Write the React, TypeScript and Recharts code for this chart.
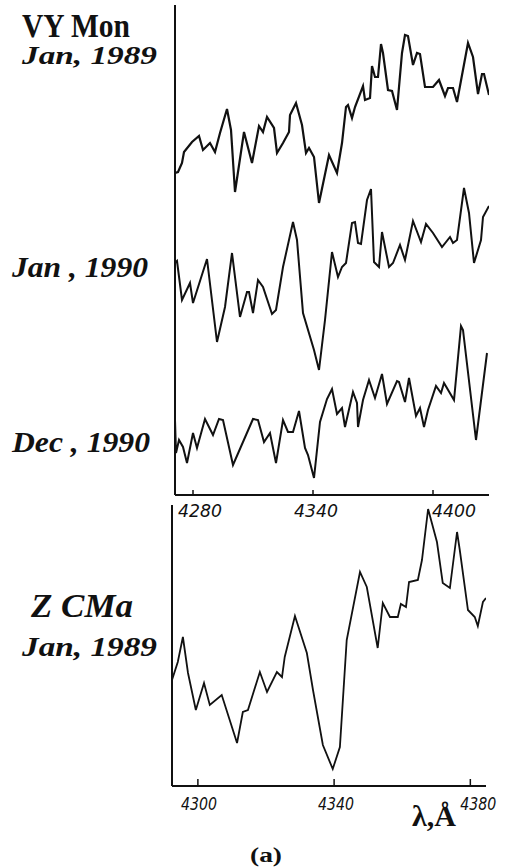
import { Line, LineChart, XAxis, YAxis } from "recharts";

// VY Mon, Jan 1989 (top trace), wavelength in Å and relative flux (offset)
const vyJan89Wave = [
  4271, 4272.5, 4274.5, 4275.5, 4279.5, 4283, 4285, 4288.5, 4291, 4293.5, 4297, 4299, 4301,
  4305.5, 4309.5, 4313, 4315, 4317, 4320.5, 4322, 4325, 4328, 4328.5, 4331.5, 4334.5, 4336.5,
  4338, 4340.5, 4343, 4348, 4352, 4354.5, 4356.5, 4357.5, 4359.5, 4361, 4365, 4366, 4368.5,
  4369.5, 4371, 4372.5, 4374, 4375, 4377.5, 4379.5, 4382, 4384.5, 4386, 4387.5, 4390, 4392,
  4393.5, 4396, 4400, 4403, 4406, 4407.5, 4410, 4412, 4417.5, 4420, 4422.5, 4424.5, 4425.5, 4428,
];
const vyJan89Flux = [
  3.22, 3.23, 3.32, 3.43, 3.53, 3.59, 3.45, 3.52, 3.43, 3.62, 3.86, 3.65, 3.03,
  3.63, 3.32, 3.69, 3.63, 3.78, 3.67, 3.42, 3.52, 3.63, 3.8, 3.92, 3.7, 3.42,
  3.47, 3.38, 2.92, 3.4, 3.22, 3.52, 3.88, 3.9, 3.77, 3.88, 4.09, 3.95, 3.97,
  4.29, 4.18, 4.18, 4.51, 4.42, 4.05, 4.04, 3.85, 4.42, 4.6, 4.59, 4.3, 4.42,
  4.41, 4.08, 4.08, 4.15, 3.99, 4.07, 4.07, 3.93, 4.52, 4.38, 4.01, 4.21, 4.21, 4.0,
];

// VY Mon, Jan 1990
const vyJan90Wave = [
  4271, 4272, 4274.5, 4278.5, 4280, 4287, 4292, 4296, 4299.5, 4303.5, 4307, 4308, 4310,
  4312.5, 4315, 4319.5, 4321.5, 4325, 4330, 4332, 4335, 4340.5, 4343, 4346, 4349.5, 4352.5,
  4354.5, 4356.5, 4359.5, 4361, 4362.5, 4364, 4367, 4369, 4370.5, 4373, 4374.5, 4378, 4380,
  4383.5, 4386, 4390, 4394, 4396.5, 4400, 4404.5, 4408.5, 4410, 4412, 4415.5, 4418, 4420.5,
  4424, 4425, 4428,
];
const vyJan90Flux = [
  2.32, 2.34, 1.95, 2.12, 1.92, 2.36, 1.53, 1.88, 2.42, 1.78, 2.03, 2.03, 1.82,
  2.15, 2.08, 1.81, 1.85, 2.28, 2.73, 2.55, 1.82, 1.45, 1.25, 1.75, 2.43, 2.18,
  2.28, 2.32, 2.72, 2.73, 2.52, 2.51, 2.95, 3.06, 2.33, 2.28, 2.63, 2.28, 2.32,
  2.5, 2.35, 2.74, 2.53, 2.71, 2.62, 2.48, 2.58, 2.52, 2.55, 3.07, 2.82, 2.32,
  2.55, 2.78, 2.89,
];

// VY Mon, Dec 1990
const vyDec90Wave = [
  4271, 4271.5, 4273, 4275, 4277, 4280, 4282, 4286, 4290, 4293, 4295, 4300, 4310, 4312.5,
  4315.5, 4318.5, 4321.5, 4325, 4327.5, 4330, 4333, 4336, 4337.5, 4340.5, 4343.5, 4347,
  4349.5, 4352, 4354.5, 4356, 4360, 4362, 4362.5, 4365, 4368, 4371, 4374.5, 4377, 4382,
  4383, 4386, 4388, 4391.5, 4393.5, 4395.5, 4397.5, 4401.5, 4404, 4405.5, 4410.5, 4414,
  4415, 4421.5, 4427,
];
const vyDec90Flux = [
  0.75, 0.42, 0.55, 0.48, 0.32, 0.62, 0.47, 0.76, 0.6, 0.76, 0.75, 0.3, 0.76, 0.75,
  0.53, 0.62, 0.32, 0.75, 0.63, 0.63, 0.84, 0.47, 0.4, 0.17, 0.73, 0.96,
  1.06, 0.81, 0.87, 0.68, 1.03, 0.92, 0.68, 0.95, 1.15, 0.97, 1.21, 0.91, 1.14,
  1.13, 0.93, 1.17, 0.79, 0.87, 0.68, 0.85, 1.09, 1.02, 1.12, 0.95, 1.69,
  1.65, 0.55, 1.42,
];

// Z CMa, Jan 1989
const zcmaWave = [
  4292.4, 4294.1, 4295.6, 4297.1, 4299.4, 4301.8, 4303.5, 4307, 4311.5, 4313.2, 4314.7,
  4318.2, 4320.3, 4323.2, 4324.7, 4325.5, 4328.5, 4332, 4333.8, 4336.7, 4339.6, 4341.7,
  4343.7, 4347.6, 4349.6, 4352.8, 4354.3, 4356.4, 4358.7, 4359.6, 4361.1, 4362, 4364.6,
  4365.8, 4367.6, 4370.2, 4371.9, 4374, 4376.1, 4376.9, 4379.3, 4381.3, 4382.2, 4383.7, 4384.6,
];
const zcmaFlux = [
  1.06, 1.24, 1.49, 1.13, 0.76, 1.03, 0.81, 0.91, 0.43, 0.74, 0.76,
  1.14, 0.94, 1.14, 1.09, 1.29, 1.7, 1.33, 0.96, 0.41, 0.17, 0.39,
  1.46, 2.14, 1.99, 1.38, 1.83, 1.69, 1.69, 1.82, 1.79, 2.04, 2.06,
  2.26, 2.77, 2.44, 2.03, 1.98, 2.54, 2.36, 1.76, 1.69, 1.6, 1.84, 1.88,
];

const topTicks = [4280, 4340, 4400];
const bottomTicks = [4300, 4340, 4380];

const toRows = (wave: number[], flux: number[]) =>
  wave.map((w, i) => ({ w, f: flux[i] }));

const ink = "#111";

function WaveTick(props: any) {
  const { x, y, payload, rise, drop, shifts, len } = props;
  const v = payload.value;
  return (
    <g>
      <line x1={x} y1={y} x2={x} y2={y - rise} stroke={ink} strokeWidth={1.5} />
      <text
        x={x + (shifts[v] ?? 0)}
        y={y + drop}
        textAnchor="middle"
        fontFamily="DejaVu Sans"
        fontStyle="italic"
        fontSize={17}
        fill={ink}
        textLength={len}
        lengthAdjust="spacingAndGlyphs"
      >
        {v}
      </text>
    </g>
  );
}

function Caption({ x, y, size, w, italic, children }: any) {
  return (
    <text
      x={x}
      y={y}
      fontFamily="Liberation Serif"
      fontWeight="bold"
      fontStyle={italic ? "italic" : "normal"}
      fontSize={size}
      fill={ink}
      textLength={w}
      lengthAdjust="spacingAndGlyphs"
    >
      {children}
    </text>
  );
}

export default function App() {
  return (
    <div style={{ position: "absolute", left: 0, top: 0, width: 507, height: 867, background: "#fff" }}>
      <div style={{ position: "absolute", left: 0, top: 0 }}>
        <LineChart width={507} height={525} margin={{ top: 5, right: 18, bottom: 0, left: 173 }}>
          <XAxis
            type="number"
            dataKey="w"
            domain={[4271, 4428]}
            ticks={topTicks}
            allowDataOverflow
            height={30}
            tickSize={0}
            tickMargin={0}
            tickLine={false}
            axisLine={{ stroke: ink, strokeWidth: 2 }}
            tick={<WaveTick rise={5} drop={22} len={44} shifts={{ 4280: 7, 4340: 3, 4400: 21 }} />}
          />
          <YAxis
            type="number"
            domain={[0, 4.9]}
            allowDataOverflow
            width={2}
            tick={false}
            tickLine={false}
            axisLine={{ stroke: ink, strokeWidth: 2 }}
          />
          <Line data={toRows(vyJan89Wave, vyJan89Flux)} dataKey="f" type="linear" stroke={ink} strokeWidth={2.2} dot={false} isAnimationActive={false} />
          <Line data={toRows(vyJan90Wave, vyJan90Flux)} dataKey="f" type="linear" stroke={ink} strokeWidth={2} dot={false} isAnimationActive={false} />
          <Line data={toRows(vyDec90Wave, vyDec90Flux)} dataKey="f" type="linear" stroke={ink} strokeWidth={2} dot={false} isAnimationActive={false} />
        </LineChart>
      </div>

      <div style={{ position: "absolute", left: 0, top: 500 }}>
        <LineChart width={507} height={316} margin={{ top: 5, right: 21, bottom: 0, left: 170 }}>
          <XAxis
            type="number"
            dataKey="w"
            domain={[4292.4, 4384.6]}
            ticks={bottomTicks}
            allowDataOverflow
            height={30}
            tickSize={0}
            tickMargin={0}
            tickLine={false}
            axisLine={{ stroke: ink, strokeWidth: 2 }}
            tick={<WaveTick rise={7} drop={24} len={36} shifts={{ 4300: 1, 4340: 2, 4380: 8 }} />}
          />
          <YAxis
            type="number"
            domain={[0, 2.81]}
            allowDataOverflow
            width={2}
            tick={false}
            tickLine={false}
            axisLine={{ stroke: ink, strokeWidth: 2 }}
          />
          <Line data={toRows(zcmaWave, zcmaFlux)} dataKey="f" type="linear" stroke={ink} strokeWidth={1.8} dot={false} isAnimationActive={false} />
        </LineChart>
      </div>

      <svg width={507} height={867} style={{ position: "absolute", left: 0, top: 0, pointerEvents: "none" }}>
        <Caption x={22} y={37} size={34} w={108}>VY Mon</Caption>
        <Caption x={22} y={64} size={25} w={135} italic>Jan, 1989</Caption>
        <Caption x={12} y={277} size={29} w={136} italic>Jan , 1990</Caption>
        <Caption x={12} y={452} size={29} w={138} italic>Dec , 1990</Caption>
        <Caption x={31} y={617} size={34} w={102} italic>Z CMa</Caption>
        <Caption x={22} y={656} size={27} w={135} italic>Jan, 1989</Caption>
        <Caption x={412} y={826} size={30} w={44}>λ,Å</Caption>
        <Caption x={250} y={862} size={20} w={32}>(a)</Caption>
      </svg>
    </div>
  );
}
